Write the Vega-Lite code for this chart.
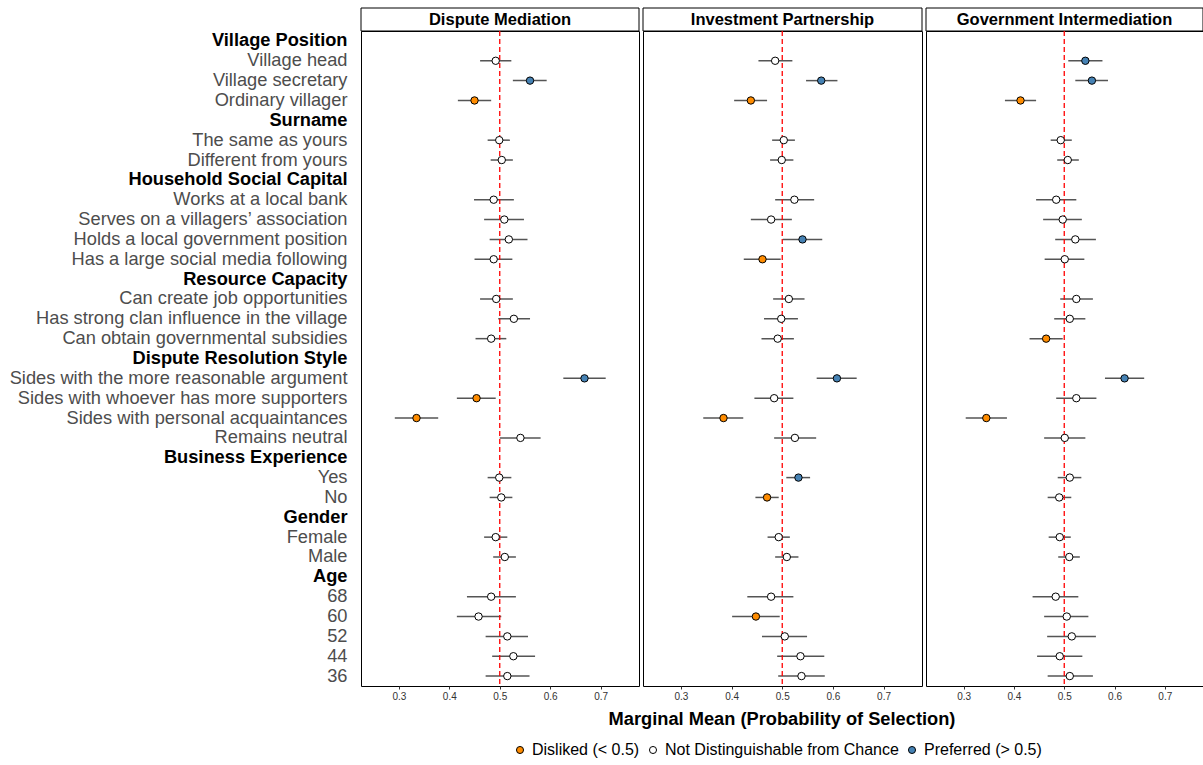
{
  "$schema": "https://vega.github.io/schema/vega-lite/v6.json",
  "background": "white",
  "padding": {"left": 8, "top": 7, "right": 0, "bottom": 5},
  "config": {
    "font": "Liberation Sans",
    "view": {"stroke": "black", "strokeWidth": 1},
    "axis": {"grid": false}
  },
  "title": {"text": "Marginal Mean (Probability of Selection)", "orient": "bottom", "anchor": "middle", "frame": "group", "fontSize": 18.25, "fontWeight": "bold", "color": "black", "offset": 0, "dx": 421, "dy": -47},
  "datasets": {
    "mm": [
      {"p": "DM", "l": "Village head", "m": 0.492, "lo": 0.461, "hi": 0.523, "c": "N"},
      {"p": "DM", "l": "Village secretary", "m": 0.560, "lo": 0.526, "hi": 0.593, "c": "P"},
      {"p": "DM", "l": "Ordinary villager", "m": 0.450, "lo": 0.417, "hi": 0.483, "c": "D"},
      {"p": "DM", "l": "The same as yours", "m": 0.499, "lo": 0.476, "hi": 0.520, "c": "N"},
      {"p": "DM", "l": "Different from yours", "m": 0.504, "lo": 0.482, "hi": 0.526, "c": "N"},
      {"p": "DM", "l": "Works at a local bank", "m": 0.488, "lo": 0.449, "hi": 0.528, "c": "N"},
      {"p": "DM", "l": "Serves on a villagers’ association", "m": 0.509, "lo": 0.469, "hi": 0.548, "c": "N"},
      {"p": "DM", "l": "Holds a local government position", "m": 0.518, "lo": 0.480, "hi": 0.555, "c": "N"},
      {"p": "DM", "l": "Has a large social media following", "m": 0.488, "lo": 0.450, "hi": 0.525, "c": "N"},
      {"p": "DM", "l": "Can create job opportunities", "m": 0.493, "lo": 0.461, "hi": 0.526, "c": "N"},
      {"p": "DM", "l": "Has strong clan influence in the village", "m": 0.528, "lo": 0.497, "hi": 0.560, "c": "N"},
      {"p": "DM", "l": "Can obtain governmental subsidies", "m": 0.483, "lo": 0.452, "hi": 0.513, "c": "N"},
      {"p": "DM", "l": "Sides with the more reasonable argument", "m": 0.668, "lo": 0.626, "hi": 0.710, "c": "P"},
      {"p": "DM", "l": "Sides with whoever has more supporters", "m": 0.454, "lo": 0.415, "hi": 0.492, "c": "D"},
      {"p": "DM", "l": "Sides with personal acquaintances", "m": 0.335, "lo": 0.292, "hi": 0.378, "c": "D"},
      {"p": "DM", "l": "Remains neutral", "m": 0.541, "lo": 0.500, "hi": 0.581, "c": "N"},
      {"p": "DM", "l": "Yes", "m": 0.499, "lo": 0.476, "hi": 0.523, "c": "N"},
      {"p": "DM", "l": "No", "m": 0.503, "lo": 0.480, "hi": 0.525, "c": "N"},
      {"p": "DM", "l": "Female", "m": 0.492, "lo": 0.469, "hi": 0.515, "c": "N"},
      {"p": "DM", "l": "Male", "m": 0.510, "lo": 0.487, "hi": 0.532, "c": "N"},
      {"p": "DM", "l": "68", "m": 0.483, "lo": 0.435, "hi": 0.532, "c": "N"},
      {"p": "DM", "l": "60", "m": 0.458, "lo": 0.415, "hi": 0.503, "c": "N"},
      {"p": "DM", "l": "52", "m": 0.515, "lo": 0.472, "hi": 0.556, "c": "N"},
      {"p": "DM", "l": "44", "m": 0.527, "lo": 0.485, "hi": 0.570, "c": "N"},
      {"p": "DM", "l": "36", "m": 0.515, "lo": 0.472, "hi": 0.559, "c": "N"},
      {"p": "IP", "l": "Village head", "m": 0.486, "lo": 0.453, "hi": 0.520, "c": "N"},
      {"p": "IP", "l": "Village secretary", "m": 0.577, "lo": 0.547, "hi": 0.609, "c": "P"},
      {"p": "IP", "l": "Ordinary villager", "m": 0.438, "lo": 0.405, "hi": 0.470, "c": "D"},
      {"p": "IP", "l": "The same as yours", "m": 0.503, "lo": 0.480, "hi": 0.525, "c": "N"},
      {"p": "IP", "l": "Different from yours", "m": 0.499, "lo": 0.476, "hi": 0.522, "c": "N"},
      {"p": "IP", "l": "Works at a local bank", "m": 0.524, "lo": 0.486, "hi": 0.563, "c": "N"},
      {"p": "IP", "l": "Serves on a villagers’ association", "m": 0.478, "lo": 0.438, "hi": 0.519, "c": "N"},
      {"p": "IP", "l": "Holds a local government position", "m": 0.540, "lo": 0.501, "hi": 0.579, "c": "P"},
      {"p": "IP", "l": "Has a large social media following", "m": 0.461, "lo": 0.424, "hi": 0.497, "c": "D"},
      {"p": "IP", "l": "Can create job opportunities", "m": 0.513, "lo": 0.482, "hi": 0.544, "c": "N"},
      {"p": "IP", "l": "Has strong clan influence in the village", "m": 0.498, "lo": 0.464, "hi": 0.531, "c": "N"},
      {"p": "IP", "l": "Can obtain governmental subsidies", "m": 0.491, "lo": 0.459, "hi": 0.523, "c": "N"},
      {"p": "IP", "l": "Sides with the more reasonable argument", "m": 0.608, "lo": 0.568, "hi": 0.647, "c": "P"},
      {"p": "IP", "l": "Sides with whoever has more supporters", "m": 0.484, "lo": 0.445, "hi": 0.522, "c": "N"},
      {"p": "IP", "l": "Sides with personal acquaintances", "m": 0.384, "lo": 0.344, "hi": 0.423, "c": "D"},
      {"p": "IP", "l": "Remains neutral", "m": 0.525, "lo": 0.484, "hi": 0.567, "c": "N"},
      {"p": "IP", "l": "Yes", "m": 0.532, "lo": 0.508, "hi": 0.555, "c": "P"},
      {"p": "IP", "l": "No", "m": 0.470, "lo": 0.447, "hi": 0.493, "c": "D"},
      {"p": "IP", "l": "Female", "m": 0.493, "lo": 0.471, "hi": 0.515, "c": "N"},
      {"p": "IP", "l": "Male", "m": 0.509, "lo": 0.486, "hi": 0.532, "c": "N"},
      {"p": "IP", "l": "68", "m": 0.478, "lo": 0.431, "hi": 0.522, "c": "N"},
      {"p": "IP", "l": "60", "m": 0.448, "lo": 0.401, "hi": 0.495, "c": "D"},
      {"p": "IP", "l": "52", "m": 0.505, "lo": 0.460, "hi": 0.549, "c": "N"},
      {"p": "IP", "l": "44", "m": 0.536, "lo": 0.490, "hi": 0.583, "c": "N"},
      {"p": "IP", "l": "36", "m": 0.538, "lo": 0.492, "hi": 0.584, "c": "N"},
      {"p": "GI", "l": "Village head", "m": 0.542, "lo": 0.508, "hi": 0.576, "c": "P"},
      {"p": "GI", "l": "Village secretary", "m": 0.555, "lo": 0.522, "hi": 0.587, "c": "P"},
      {"p": "GI", "l": "Ordinary villager", "m": 0.413, "lo": 0.382, "hi": 0.444, "c": "D"},
      {"p": "GI", "l": "The same as yours", "m": 0.493, "lo": 0.473, "hi": 0.515, "c": "N"},
      {"p": "GI", "l": "Different from yours", "m": 0.507, "lo": 0.486, "hi": 0.529, "c": "N"},
      {"p": "GI", "l": "Works at a local bank", "m": 0.484, "lo": 0.444, "hi": 0.524, "c": "N"},
      {"p": "GI", "l": "Serves on a villagers’ association", "m": 0.497, "lo": 0.458, "hi": 0.535, "c": "N"},
      {"p": "GI", "l": "Holds a local government position", "m": 0.522, "lo": 0.482, "hi": 0.563, "c": "N"},
      {"p": "GI", "l": "Has a large social media following", "m": 0.501, "lo": 0.461, "hi": 0.540, "c": "N"},
      {"p": "GI", "l": "Can create job opportunities", "m": 0.524, "lo": 0.492, "hi": 0.557, "c": "N"},
      {"p": "GI", "l": "Has strong clan influence in the village", "m": 0.511, "lo": 0.480, "hi": 0.542, "c": "N"},
      {"p": "GI", "l": "Can obtain governmental subsidies", "m": 0.464, "lo": 0.431, "hi": 0.497, "c": "D"},
      {"p": "GI", "l": "Sides with the more reasonable argument", "m": 0.620, "lo": 0.581, "hi": 0.659, "c": "P"},
      {"p": "GI", "l": "Sides with whoever has more supporters", "m": 0.524, "lo": 0.484, "hi": 0.564, "c": "N"},
      {"p": "GI", "l": "Sides with personal acquaintances", "m": 0.345, "lo": 0.304, "hi": 0.386, "c": "D"},
      {"p": "GI", "l": "Remains neutral", "m": 0.501, "lo": 0.460, "hi": 0.542, "c": "N"},
      {"p": "GI", "l": "Yes", "m": 0.511, "lo": 0.487, "hi": 0.534, "c": "N"},
      {"p": "GI", "l": "No", "m": 0.490, "lo": 0.467, "hi": 0.514, "c": "N"},
      {"p": "GI", "l": "Female", "m": 0.491, "lo": 0.469, "hi": 0.513, "c": "N"},
      {"p": "GI", "l": "Male", "m": 0.510, "lo": 0.488, "hi": 0.531, "c": "N"},
      {"p": "GI", "l": "68", "m": 0.483, "lo": 0.437, "hi": 0.528, "c": "N"},
      {"p": "GI", "l": "60", "m": 0.505, "lo": 0.460, "hi": 0.548, "c": "N"},
      {"p": "GI", "l": "52", "m": 0.515, "lo": 0.466, "hi": 0.563, "c": "N"},
      {"p": "GI", "l": "44", "m": 0.491, "lo": 0.446, "hi": 0.536, "c": "N"},
      {"p": "GI", "l": "36", "m": 0.511, "lo": 0.467, "hi": 0.557, "c": "N"}
    ]
  },
  "spacing": 2,
  "hconcat": [
    {
      "vconcat": [
        {
          "data": {"values": [{"t": "Dispute Mediation"}]},
          "width": 278, "height": 23,
          "layer": [
            {"mark": {"type": "rect", "fill": "white", "stroke": "black", "strokeWidth": 1}, "encoding": {}},
            {"mark": {"type": "text", "fontWeight": "bold", "fontSize": 16.5, "color": "black"}, "encoding": {"text": {"field": "t"}}}
          ]
        },
        {
          "data": {"name": "mm"},
          "transform": [{"filter": "datum.p === 'DM'"}],
          "width": 278, "height": 655,
          "layer": [
            {
              "mark": {"type": "rule", "color": "#555555", "strokeWidth": 1.5},
              "encoding": {
                "x": {"field": "lo", "type": "quantitative", "scale": {"domain": [0.225, 0.776], "nice": false, "zero": false},
                      "axis": {"values": [0.3, 0.4, 0.5, 0.6, 0.7], "format": ".1f", "labelFontSize": 10, "labelColor": "#333333", "tickSize": 3, "tickColor": "#333333", "domain": false, "title": null}},
                "x2": {"field": "hi"},
                "y": {"field": "l", "type": "nominal", "title": null,
                      "scale": {"type": "point", "padding": 0.5, "domain": ["Village Position", "Village head", "Village secretary", "Ordinary villager", "Surname", "The same as yours", "Different from yours", "Household Social Capital", "Works at a local bank", "Serves on a villagers’ association", "Holds a local government position", "Has a large social media following", "Resource Capacity", "Can create job opportunities", "Has strong clan influence in the village", "Can obtain governmental subsidies", "Dispute Resolution Style", "Sides with the more reasonable argument", "Sides with whoever has more supporters", "Sides with personal acquaintances", "Remains neutral", "Business Experience", "Yes", "No", "Gender", "Female", "Male", "Age", "68", "60", "52", "44", "36"]},
                      "axis": {"ticks": false, "domain": false, "labelPadding": 14, "labelFontSize": 18.25, "labelLimit": 0,
                               "labelColor": {"condition": {"test": "indexof(['Village Position','Surname','Household Social Capital','Resource Capacity','Dispute Resolution Style','Business Experience','Gender','Age'], datum.value) >= 0", "value": "black"}, "value": "#4D4D4D"},
                               "labelFontWeight": {"condition": {"test": "indexof(['Village Position','Surname','Household Social Capital','Resource Capacity','Dispute Resolution Style','Business Experience','Gender','Age'], datum.value) >= 0", "value": "bold"}, "value": "normal"}}}
              }
            },
            {
              "transform": [{"aggregate": [{"op": "count", "as": "n"}]}],
              "mark": {"type": "rule", "color": "red", "strokeDash": [5, 3], "strokeWidth": 1.3},
              "encoding": {"x": {"datum": 0.5, "type": "quantitative"}}
            },
            {
              "mark": {"type": "circle", "size": 55, "stroke": "black", "strokeWidth": 1, "opacity": 1},
              "encoding": {
                "x": {"field": "m", "type": "quantitative"},
                "y": {"field": "l", "type": "nominal"},
                "color": {"field": "c", "type": "nominal",
                          "scale": {"domain": ["D", "N", "P"], "range": ["#FF8C00", "#FFFFFF", "#4682B4"]},
                          "legend": {"orient": "none", "legendX": 151, "legendY": 734, "direction": "horizontal", "title": null, "labelFontSize": 16, "labelColor": "black", "labelLimit": 0, "symbolType": "circle", "symbolSize": 50, "symbolStrokeColor": "black", "symbolStrokeWidth": 1, "symbolOpacity": 1, "columnPadding": 5, "labelOffset": 4,
                                     "labelExpr": "datum.value === 'D' ? 'Disliked (< 0.5)' : datum.value === 'N' ? 'Not Distinguishable from Chance' : 'Preferred (> 0.5)'"}}
              }
            }
          ]
        }
      ],
      "spacing": 0,
      "bounds": "flush"
    },
    {
      "vconcat": [
        {
          "data": {"values": [{"t": "Investment Partnership"}]},
          "width": 279, "height": 23,
          "layer": [
            {"mark": {"type": "rect", "fill": "white", "stroke": "black", "strokeWidth": 1}, "encoding": {}},
            {"mark": {"type": "text", "fontWeight": "bold", "fontSize": 16.5, "color": "black"}, "encoding": {"text": {"field": "t"}}}
          ]
        },
        {
          "data": {"name": "mm"},
          "transform": [{"filter": "datum.p === 'IP'"}],
          "width": 279, "height": 655,
          "layer": [
            {
              "mark": {"type": "rule", "color": "#555555", "strokeWidth": 1.5},
              "encoding": {
                "x": {"field": "lo", "type": "quantitative", "scale": {"domain": [0.225, 0.776], "nice": false, "zero": false},
                      "axis": {"values": [0.3, 0.4, 0.5, 0.6, 0.7], "format": ".1f", "labelFontSize": 10, "labelColor": "#333333", "tickSize": 3, "tickColor": "#333333", "domain": false, "title": null}},
                "x2": {"field": "hi"},
                "y": {"field": "l", "type": "nominal", "axis": null,
                      "scale": {"type": "point", "padding": 0.5, "domain": ["Village Position", "Village head", "Village secretary", "Ordinary villager", "Surname", "The same as yours", "Different from yours", "Household Social Capital", "Works at a local bank", "Serves on a villagers’ association", "Holds a local government position", "Has a large social media following", "Resource Capacity", "Can create job opportunities", "Has strong clan influence in the village", "Can obtain governmental subsidies", "Dispute Resolution Style", "Sides with the more reasonable argument", "Sides with whoever has more supporters", "Sides with personal acquaintances", "Remains neutral", "Business Experience", "Yes", "No", "Gender", "Female", "Male", "Age", "68", "60", "52", "44", "36"]}}
              }
            },
            {
              "transform": [{"aggregate": [{"op": "count", "as": "n"}]}],
              "mark": {"type": "rule", "color": "red", "strokeDash": [5, 3], "strokeWidth": 1.3},
              "encoding": {"x": {"datum": 0.5, "type": "quantitative"}}
            },
            {
              "mark": {"type": "circle", "size": 55, "stroke": "black", "strokeWidth": 1, "opacity": 1},
              "encoding": {
                "x": {"field": "m", "type": "quantitative"},
                "y": {"field": "l", "type": "nominal"},
                "color": {"field": "c", "type": "nominal"}
              }
            }
          ]
        }
      ],
      "spacing": 0,
      "bounds": "flush"
    },
    {
      "vconcat": [
        {
          "data": {"values": [{"t": "Government Intermediation"}]},
          "width": 277, "height": 23,
          "layer": [
            {"mark": {"type": "rect", "fill": "white", "stroke": "black", "strokeWidth": 1}, "encoding": {}},
            {"mark": {"type": "text", "fontWeight": "bold", "fontSize": 16.5, "color": "black"}, "encoding": {"text": {"field": "t"}}}
          ]
        },
        {
          "data": {"name": "mm"},
          "transform": [{"filter": "datum.p === 'GI'"}],
          "width": 277, "height": 655,
          "layer": [
            {
              "mark": {"type": "rule", "color": "#555555", "strokeWidth": 1.5},
              "encoding": {
                "x": {"field": "lo", "type": "quantitative", "scale": {"domain": [0.225, 0.776], "nice": false, "zero": false},
                      "axis": {"values": [0.3, 0.4, 0.5, 0.6, 0.7], "format": ".1f", "labelFontSize": 10, "labelColor": "#333333", "tickSize": 3, "tickColor": "#333333", "domain": false, "title": null}},
                "x2": {"field": "hi"},
                "y": {"field": "l", "type": "nominal", "axis": null,
                      "scale": {"type": "point", "padding": 0.5, "domain": ["Village Position", "Village head", "Village secretary", "Ordinary villager", "Surname", "The same as yours", "Different from yours", "Household Social Capital", "Works at a local bank", "Serves on a villagers’ association", "Holds a local government position", "Has a large social media following", "Resource Capacity", "Can create job opportunities", "Has strong clan influence in the village", "Can obtain governmental subsidies", "Dispute Resolution Style", "Sides with the more reasonable argument", "Sides with whoever has more supporters", "Sides with personal acquaintances", "Remains neutral", "Business Experience", "Yes", "No", "Gender", "Female", "Male", "Age", "68", "60", "52", "44", "36"]}}
              }
            },
            {
              "transform": [{"aggregate": [{"op": "count", "as": "n"}]}],
              "mark": {"type": "rule", "color": "red", "strokeDash": [5, 3], "strokeWidth": 1.3},
              "encoding": {"x": {"datum": 0.5, "type": "quantitative"}}
            },
            {
              "mark": {"type": "circle", "size": 55, "stroke": "black", "strokeWidth": 1, "opacity": 1},
              "encoding": {
                "x": {"field": "m", "type": "quantitative"},
                "y": {"field": "l", "type": "nominal"},
                "color": {"field": "c", "type": "nominal"}
              }
            }
          ]
        }
      ],
      "spacing": 0,
      "bounds": "flush"
    }
  ]
}
